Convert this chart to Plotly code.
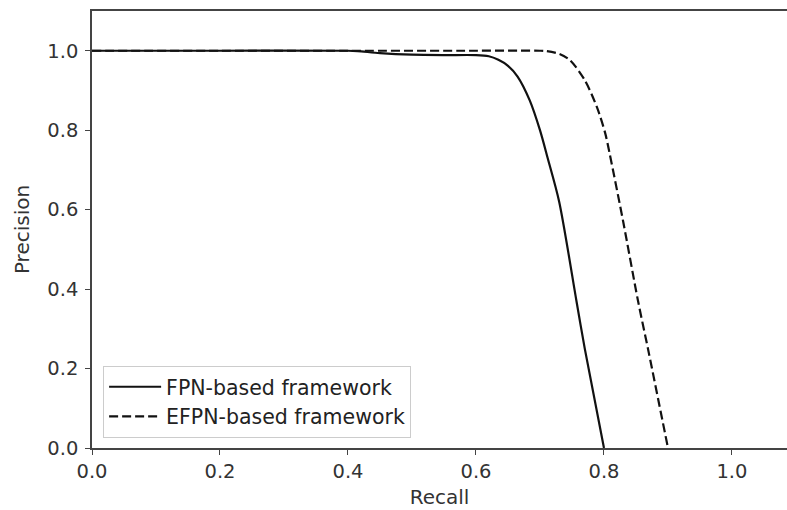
import plotly.graph_objects as go

fpn_recall = [0.0, 0.20, 0.40, 0.415, 0.45, 0.50, 0.55, 0.60, 0.62, 0.635, 0.65, 0.665, 0.684, 0.70, 0.712, 0.73, 0.757, 0.77, 0.80]
fpn_precision = [1.0, 1.0, 1.0, 0.999, 0.994, 0.99, 0.989, 0.989, 0.986, 0.977, 0.962, 0.935, 0.875, 0.80, 0.73, 0.62, 0.37, 0.25, 0.0]

efpn_recall = [0.0, 0.20, 0.40, 0.60, 0.70, 0.71, 0.73, 0.747, 0.77, 0.789, 0.802, 0.809, 0.83, 0.853, 0.87, 0.90]
efpn_precision = [1.0, 1.0, 1.0, 1.0, 1.0, 0.999, 0.992, 0.976, 0.926, 0.858, 0.792, 0.74, 0.57, 0.372, 0.24, 0.0]

x_ticks = [0.0, 0.2, 0.4, 0.6, 0.8, 1.0]
y_ticks = [0.0, 0.2, 0.4, 0.6, 0.8, 1.0]

fig = go.Figure()
fig.add_trace(go.Scatter(x=fpn_recall, y=fpn_precision, mode="lines", name="FPN-based framework",
                         line=dict(color="#111111", width=2.2, shape="spline", smoothing=0.8)))
fig.add_trace(go.Scatter(x=efpn_recall, y=efpn_precision, mode="lines", name="EFPN-based framework",
                         line=dict(color="#111111", width=2.2, dash="9px,4px", shape="spline", smoothing=0.8)))

axis_common = dict(showgrid=False, zeroline=False, showline=True, linecolor="#444444", linewidth=1.5,
                   ticks="outside", ticklen=5, tickwidth=1.2, tickcolor="#444444",
                   tickfont=dict(family="DejaVu Sans", size=19.5, color="#333333"))

fig.update_layout(
    width=787, height=510,
    margin=dict(l=92, r=0, t=11, b=62),
    paper_bgcolor="white", plot_bgcolor="white",
    font=dict(family="DejaVu Sans", color="#333333"),
    xaxis=dict(range=[0, 1.086], tickvals=x_ticks, ticktext=[f"{v:.1f}" for v in x_ticks],
               mirror=True, title=dict(text="Recall", font=dict(size=20), standoff=8), **axis_common),
    yaxis=dict(range=[0, 1.1], tickvals=y_ticks, ticktext=[f"{v:.1f}" for v in y_ticks],
               ticklabelstandoff=3,
               mirror=False, title=dict(text="Precision", font=dict(size=20), standoff=12), **axis_common),
    legend=dict(x=0.016, y=0.023, xanchor="left", yanchor="bottom", itemwidth=52,
                bgcolor="rgba(255,255,255,0.9)", bordercolor="#cccccc", borderwidth=1,
                font=dict(family="DejaVu Sans", size=20.5, color="#222222")),
    showlegend=True,
)

fig.write_html("out.html", config={"displayModeBar": False},
               post_script="document.body.style.margin='0';document.body.style.overflow='hidden';")
